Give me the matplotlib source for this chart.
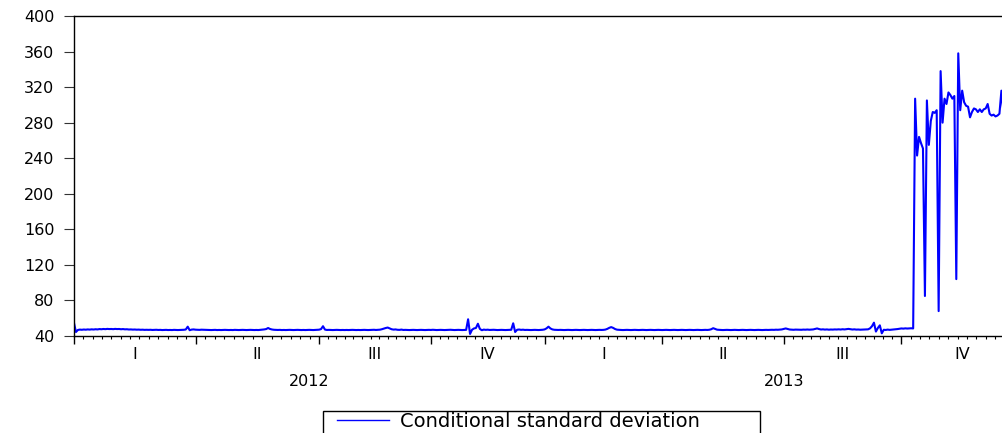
import numpy as np
import matplotlib
matplotlib.use('Agg')
import matplotlib.pyplot as plt
from matplotlib.patches import Rectangle

# Configurações do gráfico
plt.rcParams['font.family'] = ['DejaVu Sans']
plt.rcParams['font.size'] = 11.5

# Trimestres e anos do eixo horizontal
trimestres = ['I', 'II', 'III', 'IV', 'I', 'II', 'III', 'IV']
anos = ['2012', '2013']
dias_por_trimestre = [62, 63, 57, 58, 60, 62, 60, 62]

# Desvio padrão condicional (observações diárias)
sd_2012 = [
    54.6, 44.5, 46.8, 47.2, 47.0, 47.3, 47.1, 47.4, 47.2, 47.5, 47.3, 47.6, 47.4, 47.8, 47.6, 47.9, 47.7, 48.0, 47.8, 47.9,
    47.7, 48.0, 47.8, 47.9, 47.6, 47.8, 47.5, 47.6, 47.3, 47.4, 47.2, 47.3, 47.1, 47.2, 47.0, 47.1, 46.9, 47.0, 46.9, 47.0,
    46.8, 46.9, 47.0, 46.8, 46.9, 46.7, 46.8, 46.9, 46.7, 46.8, 46.7, 46.9, 46.8, 46.7, 46.8, 46.9, 47.0, 47.3, 50.5, 46.5,
    47.2, 47.4, 47.1, 47.0, 46.9, 47.1, 47.0, 46.8, 46.9, 46.8, 46.7, 46.8, 46.9, 46.7, 46.8, 46.7, 46.8, 46.9, 46.8, 46.7,
    46.8, 46.7, 46.9, 46.8, 46.7, 46.8, 46.9, 46.8, 46.7, 46.8, 46.9, 46.8, 46.7, 46.8, 46.7, 46.9, 47.0, 47.4, 47.8, 49.0,
    47.9, 47.3, 47.0, 46.9, 46.8, 46.9, 46.7, 46.8, 46.7, 46.8, 46.9, 46.8, 46.7, 46.8, 46.9, 46.8, 46.7, 46.8, 46.7, 46.8,
    46.9, 46.8, 46.7, 46.8, 46.9, 47.1, 47.8, 51.0, 47.2, 46.8, 46.9, 46.8, 46.7, 46.8, 46.9, 46.8, 46.7, 46.8, 46.7, 46.8,
    46.7, 46.8, 46.9, 46.8, 46.7, 46.8, 46.7, 46.8, 46.9, 46.8, 46.7, 46.8, 46.9, 47.0, 46.8, 46.9, 47.1, 47.6, 48.3, 49.0,
    49.5, 48.5, 47.6, 47.2, 47.4, 47.0, 46.9, 47.2, 46.8, 46.9, 46.8, 46.7, 46.8, 46.9, 46.8, 46.7, 46.8, 46.9, 46.8, 46.7,
    46.8, 46.9, 46.8, 47.0, 46.8, 46.7, 46.8, 46.9, 46.8, 46.7, 46.8, 46.9, 47.0, 46.8, 46.7, 46.8, 46.9, 46.8, 46.7, 46.8,
    46.9, 58.8, 42.3, 47.0, 48.5, 49.0, 53.8, 48.0, 46.5, 47.2, 46.9, 47.1, 46.8, 46.9, 47.0, 46.8, 46.7, 46.8, 46.9, 46.8,
    46.7, 46.8, 46.9, 47.0, 54.3, 44.5, 47.0, 47.3, 46.9, 47.1, 46.8, 46.9, 46.8, 46.7, 46.8, 46.9, 46.8, 46.7, 46.8, 47.0,
]

sd_2013_q1_q3 = [
    47.4, 48.6, 50.5, 48.5, 47.4, 47.0, 46.9, 46.8, 46.9, 46.8, 46.7, 46.8, 46.9, 46.8, 46.7, 46.8, 46.9, 46.8, 46.7, 46.8,
    46.9, 46.8, 46.7, 46.8, 46.9, 46.8, 46.7, 46.8, 46.9, 46.8, 46.9, 47.2, 48.0, 49.2, 50.0, 49.1, 47.8, 47.1, 46.9, 46.8,
    46.7, 46.8, 46.9, 46.8, 46.7, 46.8, 46.9, 46.8, 46.7, 46.8, 46.9, 46.8, 46.7, 46.8, 46.9, 46.8, 46.7, 46.8, 46.9, 46.8,
    46.7, 46.8, 46.9, 46.8, 46.7, 46.8, 46.9, 46.8, 46.7, 46.8, 46.9, 46.8, 46.7, 46.8, 46.9, 46.8, 46.7, 46.8, 46.9, 46.8,
    46.7, 46.8, 46.9, 46.8, 47.0, 47.6, 48.8, 47.9, 47.1, 46.9, 46.8, 46.7, 46.8, 46.9, 46.8, 46.7, 46.8, 46.9, 46.8, 46.7,
    46.8, 46.9, 46.8, 46.7, 46.8, 46.9, 46.8, 46.7, 46.8, 46.9, 46.8, 46.7, 46.8, 46.9, 46.8, 46.9, 47.0, 46.9, 47.1, 47.0,
    47.2, 47.4, 47.9, 48.5, 47.9, 47.3, 47.1, 47.0, 47.2, 47.1, 46.9, 47.0, 47.2, 47.1, 47.3, 47.1, 47.2, 47.4, 47.9, 48.5,
    47.8, 47.3, 47.5, 47.2, 47.4, 47.1, 47.3, 47.2, 47.4, 47.3, 47.5, 47.3, 47.6, 47.4, 47.7, 48.0, 47.6, 47.3, 47.5, 47.2,
    47.3, 47.1, 47.2, 47.4, 47.3, 47.5, 48.6, 51.0, 55.0, 45.0, 49.0, 52.0, 43.0, 47.0, 46.8, 47.2, 46.9, 47.1, 47.3, 47.5,
    47.8, 48.2,
]

sd_2013_q4 = [
    48.5, 48.3, 48.6, 48.4, 48.5, 48.7, 48.5,
    307, 243, 264, 257, 251, 85, 305, 255, 282, 292,
    291, 294, 68, 338, 280, 307, 301, 314, 311, 307,
    310, 104, 358, 294, 316, 303, 299, 298, 286, 292,
    296, 295, 292, 295, 292, 295, 296, 301, 290, 288,
    289, 287, 288, 290, 316, 292, 293,
]

serie = np.array(sd_2012 + sd_2013_q1_q3 + sd_2013_q4)
obs = np.arange(len(serie))
total_obs = sum(dias_por_trimestre)

# Figura; o eixo continua um pouco além da borda direita
fig = plt.figure(figsize=(10.03, 4.33), dpi=100)
ax = fig.add_axes([74 / 1003, 1 - 336 / 433, 947 / 1003, 320 / 433])

ax.plot(obs, serie, color='#0000ff', linewidth=1.5,
        label='Conditional standard deviation')

ax.set_xlim(0, total_obs - 1)
ax.set_ylim(40, 400)
ax.set_yticks(np.arange(40, 401, 40))

# Marcas principais no início de cada trimestre, secundárias semanais
inicio = np.concatenate([[0], np.cumsum(dias_por_trimestre)[:-1]])
ax.set_xticks(inicio)
ax.set_xticklabels([])
semanas = [s + n * k / 13 for s, n in zip(inicio, dias_por_trimestre) for k in range(1, 13)]
ax.set_xticks(semanas, minor=True)

ax.tick_params(axis='x', which='major', length=5.5, width=1.0, color='black')
ax.tick_params(axis='x', which='minor', length=2.5, width=0.8, color='black')
ax.tick_params(axis='y', length=7, width=0.8, pad=7, color='#333333')

for lado in ['left', 'bottom', 'top', 'right']:
    ax.spines[lado].set_linewidth(1.0)
    ax.spines[lado].set_color('black')

# Rótulos dos trimestres e dos anos
trans = ax.get_xaxis_transform()
for s, n, q in zip(inicio, dias_por_trimestre, trimestres):
    ax.text(s + n / 2, -0.057, q, transform=trans, ha='center', va='center')
for i, ano in enumerate(anos):
    s = inicio[4 * i]
    n = sum(dias_por_trimestre[4 * i:4 * i + 4])
    ax.text(s + n / 2, -0.142, ano, transform=trans, ha='center', va='center')

# Legenda abaixo do gráfico; a moldura desce além da borda inferior
leg = ax.legend(loc='upper left', bbox_to_anchor=(337 / 1003, 1 - 412 / 433),
                bbox_transform=fig.transFigure, borderaxespad=0, frameon=False,
                fontsize=14, handlelength=2.65, handletextpad=0.6,
                borderpad=0)
leg.get_lines()[0].set_linewidth(1.0)

moldura = Rectangle((323 / 1003, 1 - 445 / 433), 437 / 1003, 34 / 433,
                    transform=fig.transFigure, fill=False,
                    edgecolor='black', linewidth=1.0, clip_on=False)
fig.add_artist(moldura)

plt.savefig('out.png', dpi=100)
